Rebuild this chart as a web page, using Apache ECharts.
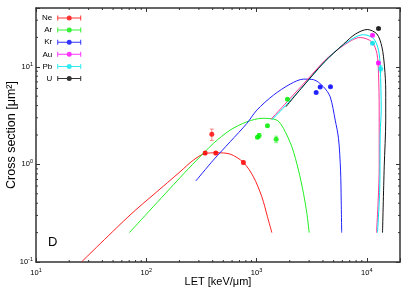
<!DOCTYPE html>
<html><head><meta charset="utf-8">
<script src="https://cdn.jsdelivr.net/npm/echarts@6/dist/echarts.min.js"></script>
<style>html,body{margin:0;padding:0;background:#fff}#c{width:415px;height:291px}</style>
</head><body><div id="c"></div>
<script>
// ---- data ----
const ions = ['Ne', 'Ar', 'Kr', 'Au', 'Pb', 'U'];
const pointColors = ['#ff0000', '#00ee00', '#0000ff', '#ff00ff', '#00e5ee', '#000000'];
const curveColors = ['#ff2020', '#20ee20', '#2020ff', '#ff3399', '#00e5ee', '#111111'];

const neCurveX = [26, 71.3, 120, 202.6, 267.6, 340, 436, 576, 760, 937, 1117, 1256, 1377];
const neCurveY = [0.1007, 0.303, 0.505, 0.84, 1.107, 1.29, 1.314, 1.275, 1.048, 0.746, 0.466, 0.291, 0.2];
const arCurveX = [70.3, 202.6, 287, 406, 576, 817, 1124, 1529, 1754, 2091, 2400, 2665, 2860, 3001];
const arCurveY = [0.2, 0.732, 1.107, 1.64, 2.244, 2.729, 2.964, 2.841, 2.336, 1.514, 0.874, 0.505, 0.315, 0.2];
const krCurveX = [281, 406, 576, 817, 1006, 1423, 2018, 2665, 3283, 4047, 4655, 5168, 5537, 5780, 5858, 5919];
const krCurveY = [0.675, 1.107, 1.703, 2.628, 3.596, 5.12, 6.64, 7.47, 7.38, 6.23, 4.92, 2.841, 1.85, 0.874, 0.431, 0.2];
const auCurveX = [1349, 2018, 2860, 4193, 6107, 8712, 11123, 12350, 12768, 12954, 12954, 12687, 12246];
const auCurveY = [2.888, 4.74, 7.29, 11.68, 16.44, 19.95, 17.98, 13.68, 8.54, 3.596, 0.945, 0.431, 0.2];
const pbCurveX = [1386, 2061, 2909, 4281, 6146, 9333, 11501, 12768, 13229, 13509, 13229, 13092, 12505];
const pbCurveY = [2.874, 4.607, 7.12, 11.68, 16.84, 21.31, 19.48, 14.79, 9.98, 3.596, 2.091, 0.546, 0.2];
const uCurveX = [1845, 2539, 4106, 6146, 7847, 10083, 12350, 13709, 14475, 14843, 14843, 14385, 13884];
const uCurveY = [3.888, 5.998, 11.15, 17.03, 21.57, 24.09, 21.66, 15.98, 9.98, 5.76, 2.841, 0.945, 0.2];

const neX = [342, 427, 393, 760];
const neY = [1.305, 1.305, 2.03, 1.048];
const neErr = [0.05, 0.05, 0.27, 0.04];
const arX = [1019, 1056, 1256, 1507, 1907];
const arY = [1.902, 1.971, 2.484, 1.806, 4.66];
const arErr = [0.05, 0.1, 0.06, 0.14, 0.1];
const krX = [3473, 3776, 4684];
const krY = [5.46, 6.21, 6.23];
const krErr = [0.1, 0.1, 0.1];
const auX = [11263, 12742];
const auY = [21.06, 10.96];
const auErr = [0.4, 0.3];
const pbX = [11263, 13367];
const pbY = [17.44, 9.56];
const pbErr = [0.4, 0.7];
const uX = [12768];
const uY = [24.66];
const uErr = [0.6];

const xMajorTicks = [10, 100, 1000, 10000];
const yMajorTicks = [0.1, 1, 10];
const xMinorTicks = [20,30,40,50,60,70,80,90,200,300,400,500,600,700,800,900,2000,3000,4000,5000,6000,7000,8000,9000];
const yMinorTicks = [0.2,0.3,0.4,0.5,0.6,0.7,0.8,0.9,2,3,4,5,6,7,8,9,20,30];

// ---- build ----
const curvesX = [neCurveX, arCurveX, krCurveX, auCurveX, pbCurveX, uCurveX];
const curvesY = [neCurveY, arCurveY, krCurveY, auCurveY, pbCurveY, uCurveY];
const ptsX = [neX, arX, krX, auX, pbX, uX];
const ptsY = [neY, arY, krY, auY, pbY, uY];
const ptsE = [neErr, arErr, krErr, auErr, pbErr, uErr];
const FONT = 'Liberation Sans';
const zip = (a, b) => a.map((v, i) => [v, b[i]]);

function isMajor(v, list) { return list.some(t => Math.abs(v - t) / t < 1e-6); }
function fmt(list) {
  return v => isMajor(v, list) ? '10{sup|' + Math.round(Math.log10(v)) + '}' : '';
}
const rich = { sup: { fontSize: 5.5, padding: [0, 0, 5, 0], fontFamily: FONT, color: '#000' } };

const series = [];
ions.forEach((n, i) => {
  series.push({
    type: 'scatter', name: n, data: zip(ptsX[i], ptsY[i]), symbol: 'circle', symbolSize: 5,
    itemStyle: { color: pointColors[i] }, z: 4, silent: true
  });
  series.push({
    type: 'line', name: n, data: zip(curvesX[i], curvesY[i]), showSymbol: false, smooth: 0.3,
    lineStyle: { width: 1, color: curveColors[i] }, itemStyle: { color: pointColors[i] }, z: 2, silent: true
  });
  const col = pointColors[i];
  series.push({
    type: 'custom', name: n, silent: true, z: 3,
    data: ptsX[i].map((x, k) => [x, ptsY[i][k] - ptsE[i][k], ptsY[i][k] + ptsE[i][k]]),
    encode: { x: 0, y: [1, 2] },
    itemStyle: { color: col },
    renderItem: (params, api) => {
      const x = api.value(0);
      const a = api.coord([x, api.value(1)]);
      const b = api.coord([x, api.value(2)]);
      const st = { stroke: col, lineWidth: 1, opacity: 0.45 };
      return { type: 'group', children: [
        { type: 'line', shape: { x1: a[0], y1: a[1], x2: b[0], y2: b[1] }, style: st },
        { type: 'line', shape: { x1: a[0] - 2, y1: a[1], x2: a[0] + 2, y2: a[1] }, style: st },
        { type: 'line', shape: { x1: b[0] - 2, y1: b[1], x2: b[0] + 2, y2: b[1] }, style: st }
      ] };
    }
  });
});

// minor ticks (log axes), on all four sides
series.push({
  type: 'custom', silent: true, clip: false, z: 5,
  data: xMinorTicks.map(v => [v, 1]),
  renderItem: (params, api) => {
    const p = api.coord([api.value(0), 1]);
    const cs = params.coordSys;
    const st = { stroke: '#333', lineWidth: 1 };
    const b = cs.y + cs.height;
    return { type: 'group', children: [
      { type: 'line', shape: { x1: p[0], y1: b, x2: p[0], y2: b - 2 }, style: st },
      { type: 'line', shape: { x1: p[0], y1: cs.y, x2: p[0], y2: cs.y + 2 }, style: st }
    ] };
  }
});
series.push({
  type: 'custom', silent: true, clip: false, z: 5,
  data: yMinorTicks.map(v => [100, v]),
  renderItem: (params, api) => {
    const p = api.coord([100, api.value(1)]);
    const cs = params.coordSys;
    const st = { stroke: '#333', lineWidth: 1 };
    const r = cs.x + cs.width;
    return { type: 'group', children: [
      { type: 'line', shape: { x1: cs.x, y1: p[1], x2: cs.x + 2, y2: p[1] }, style: st },
      { type: 'line', shape: { x1: r, y1: p[1], x2: r - 2, y2: p[1] }, style: st }
    ] };
  }
});

const legendIcon = 'path://M0,2H24V3H0Z M0,0H1V5H0Z M23,0H24V5H23Z M9.5,2.5A2.5,2.5,0,1,1,14.5,2.5A2.5,2.5,0,1,1,9.5,2.5Z';
const axisLineStyle = { color: '#333', width: 1.5 };

const option = {
  animation: false,
  textStyle: { fontFamily: FONT },
  grid: { left: 36, right: 15, top: 8, bottom: 29, outerBoundsMode: 'none', containLabel: false },
  legend: {
    orient: 'vertical', left: 37, top: 9, align: 'right',
    itemWidth: 24, itemHeight: 5, itemGap: 4.1,
    textStyle: { fontSize: 8, fontFamily: FONT, color: '#000' },
    data: ions.map(n => ({ name: n, icon: legendIcon })),
    selectedMode: false
  },
  xAxis: [{
    type: 'log', min: 10, max: 20000, position: 'bottom',
    name: 'LET [keV/μm]', nameLocation: 'middle', nameGap: 14, nameMoveOverlap: false,
    nameTextStyle: { fontSize: 11, fontFamily: FONT, color: '#000' },
    axisLine: { lineStyle: axisLineStyle },
    axisTick: { inside: true, length: 4, lineStyle: { color: '#333' } },
    axisLabel: { formatter: fmt(xMajorTicks), rich: rich, fontSize: 7.5, color: '#000', margin: 5, fontFamily: FONT },
    splitLine: { show: false }
  }, {
    type: 'log', min: 10, max: 20000, position: 'top',
    axisLine: { lineStyle: axisLineStyle },
    axisTick: { inside: true, length: 4, lineStyle: { color: '#333' } },
    axisLabel: { show: false }, splitLine: { show: false }
  }],
  yAxis: [{
    type: 'log', min: 0.1, max: 40, position: 'left',
    name: 'Cross section [μm²]', nameLocation: 'middle', nameGap: 18, nameRotate: 90, nameMoveOverlap: false,
    nameTextStyle: { fontSize: 12.5, fontFamily: FONT, color: '#000' },
    axisLine: { lineStyle: axisLineStyle },
    axisTick: { inside: true, length: 4, lineStyle: { color: '#333' } },
    axisLabel: { formatter: fmt(yMajorTicks), rich: rich, fontSize: 7.5, color: '#000', margin: 3, fontFamily: FONT },
    splitLine: { show: false }
  }, {
    type: 'log', min: 0.1, max: 40, position: 'right',
    axisLine: { lineStyle: axisLineStyle },
    axisTick: { inside: true, length: 4, lineStyle: { color: '#333' } },
    axisLabel: { show: false }, splitLine: { show: false }
  }],
  graphic: [{ type: 'text', left: 48, top: 236, style: { text: 'D', fontSize: 13, fontFamily: FONT, fill: '#000' } }],
  series: series
};
const chart = echarts.init(document.getElementById('c'), null, { renderer: 'canvas' });
chart.setOption(option);
</script></body></html>
